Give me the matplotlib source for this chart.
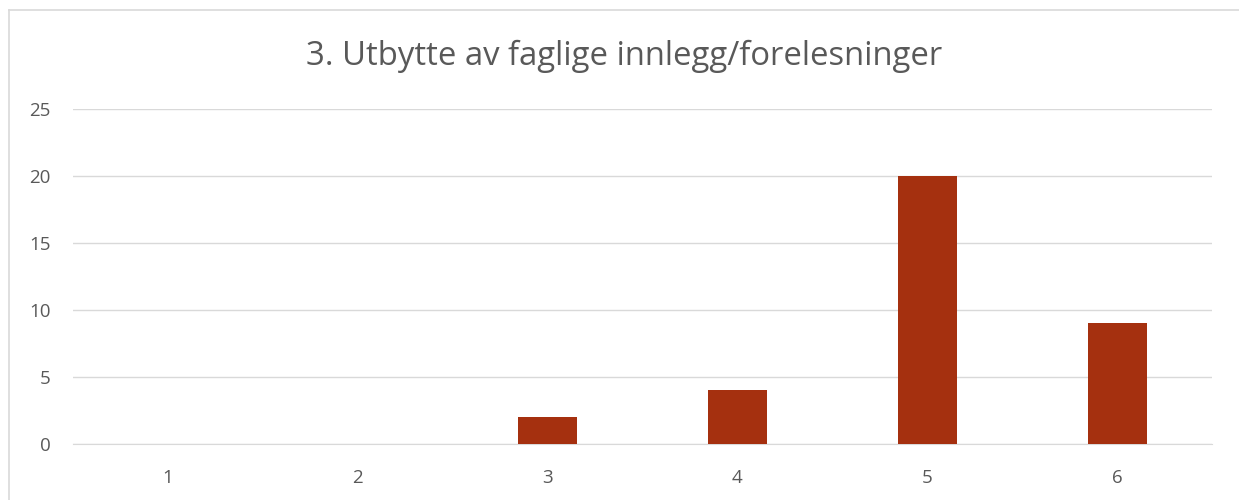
import matplotlib
matplotlib.use("Agg")
import matplotlib.pyplot as plt
from matplotlib.lines import Line2D

categories = ["1", "2", "3", "4", "5", "6"]
values = [0, 0, 2, 4, 20, 9]
yticks = [0, 5, 10, 15, 20, 25]
title = "3. Utbytte av faglige innlegg/forelesninger"

plt.rcParams['font.family'] = ['Open Sans', 'DejaVu Sans']

fig = plt.figure(figsize=(12.39, 5), dpi=100)
ax = fig.add_axes([73/1239, 56/500, (1212-73)/1239, (444-109)/500])

x = list(range(len(categories)))
ax.bar(x, values, width=0.31, color="#A5300F", zorder=3)
ax.set_xlim(-0.5, len(categories) - 0.5)
ax.set_ylim(0, 25)
ax.set_yticks(yticks)
ax.set_xticks(x)
ax.set_xticklabels(categories)
ax.grid(axis="y", color="#D9D9D9", linewidth=1, zorder=0)
for s in ["top", "right", "left"]:
    ax.spines[s].set_visible(False)
ax.spines["bottom"].set_color("#D9D9D9")
ax.tick_params(axis="both", length=0, colors="#595959", labelsize=13.5)
ax.tick_params(axis="y", pad=16)
ax.tick_params(axis="x", pad=18)

fig.text(624/1239, 1 - 56/500, title, ha="center", va="center",
         fontsize=23.7, color="#595959")

bx = 8.5 / 1239
by = 1 - 9.5 / 500
fig.add_artist(Line2D([bx, 1.01], [by, by], transform=fig.transFigure,
                      color="#D9D9D9", linewidth=1.2))
fig.add_artist(Line2D([bx, bx], [-0.01, by], transform=fig.transFigure,
                      color="#D9D9D9", linewidth=1.2))

fig.savefig("out.png", dpi=100)
